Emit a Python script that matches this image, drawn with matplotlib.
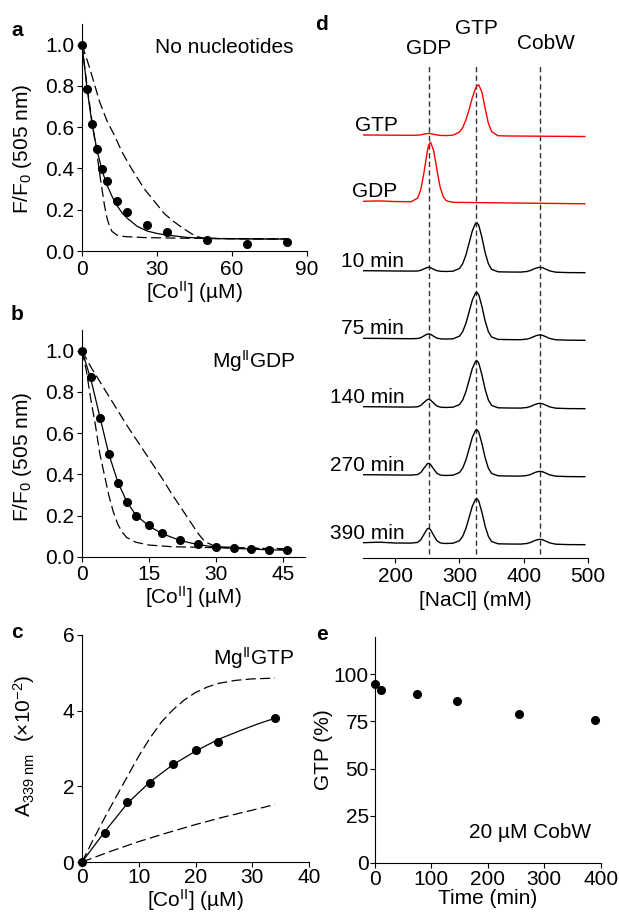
import numpy as np
import matplotlib
matplotlib.use('Agg')
import matplotlib.pyplot as plt

plt.rcParams['font.family'] = ['Liberation Sans', 'DejaVu Sans']
plt.rcParams['mathtext.fontset'] = 'custom'
plt.rcParams['mathtext.rm'] = 'Liberation Sans'
plt.rcParams['mathtext.it'] = 'Liberation Sans:italic'
plt.rcParams['font.size'] = 15

# ---- panel a: no nucleotides ----
a_co = [0, 2, 4, 6, 8, 10, 14, 18, 26, 34, 50, 66, 82]
a_f = [1.0, 0.785, 0.615, 0.495, 0.398, 0.337, 0.243, 0.19, 0.126, 0.094, 0.052, 0.033, 0.043]
a_fit_x = [0, 2, 4, 6, 8, 10, 12, 14, 16, 18, 22, 26, 30, 34, 42, 50, 60, 70, 82]
a_fit = [1.0, 0.79, 0.615, 0.49, 0.39, 0.32, 0.265, 0.22, 0.185, 0.16, 0.12, 0.097, 0.085, 0.077,
         0.066, 0.061, 0.059, 0.058, 0.058]
a_fast_x = [0, 2, 4, 6, 7, 8, 9, 10, 11, 12, 14, 17, 25, 40, 60, 82]
a_fast = [1.0, 0.8, 0.63, 0.47, 0.38, 0.3, 0.22, 0.16, 0.12, 0.095, 0.077, 0.07, 0.065, 0.062, 0.06, 0.058]
a_slow_x = [0, 3, 7, 10, 13, 16, 20, 25, 29, 33, 37, 41, 45, 48, 55, 82]
a_slow = [1.0, 0.89, 0.725, 0.63, 0.56, 0.48, 0.395, 0.3, 0.24, 0.18, 0.14, 0.105, 0.075, 0.063, 0.06, 0.058]

# ---- panel b: MgGDP ----
b_co = [0, 2, 4, 6, 8, 10, 12, 15, 18, 22, 26, 30, 34, 38, 42, 46]
b_f = [1.0, 0.873, 0.672, 0.497, 0.36, 0.267, 0.2, 0.157, 0.118, 0.081, 0.062, 0.048, 0.042, 0.038,
       0.035, 0.032]
b_fit_x = [0, 2, 4, 6, 8, 10, 12, 15, 18, 22, 26, 30, 34, 38, 42, 47]
b_fit = [1.0, 0.86, 0.68, 0.5, 0.365, 0.27, 0.205, 0.15, 0.113, 0.08, 0.06, 0.048, 0.042, 0.038,
         0.035, 0.032]
b_fast_x = [0, 1, 2, 3, 4, 5, 6, 7, 8, 9, 10, 12, 15, 20, 30, 47]
b_fast = [1.0, 0.9, 0.76, 0.64, 0.5, 0.4, 0.3, 0.22, 0.16, 0.12, 0.095, 0.072, 0.058, 0.05, 0.045, 0.04]
b_slow_x = [0, 2, 4, 6, 8, 10, 12, 14, 16, 18, 20, 22, 24, 26, 27.5, 30, 47]
b_slow = [1.0, 0.92, 0.85, 0.78, 0.71, 0.64, 0.575, 0.51, 0.445, 0.38, 0.31, 0.245, 0.18, 0.115,
          0.075, 0.05, 0.035]

# ---- panel c: MgGTP ----
c_co = [0, 4, 8, 12, 16, 20, 24, 34]
c_a = [0, 0.77, 1.59, 2.1, 2.59, 2.97, 3.16, 3.81]
c_fit_x = [0, 4, 8, 12, 16, 20, 24, 28, 31, 34]
c_fit = [0, 0.8, 1.55, 2.12, 2.57, 2.93, 3.24, 3.48, 3.65, 3.8]
c_hi_x = [0, 2, 4, 6, 8, 10, 12, 14, 16, 18, 20, 22, 24, 27, 30, 34]
c_hi = [0, 0.6, 1.17, 1.72, 2.26, 2.8, 3.28, 3.7, 4.02, 4.28, 4.48, 4.62, 4.72, 4.8, 4.84, 4.86]
c_lo_x = [0, 5, 10, 15, 20, 25, 30, 34]
c_lo = [0, 0.28, 0.54, 0.77, 0.99, 1.19, 1.37, 1.52]

# ---- panel d: anion exchange traces ----
nacl = [150, 175, 200, 225, 235, 240, 245, 250, 252, 255, 260, 265, 270, 275, 280, 290, 300, 305,
        310, 315, 320, 325, 327, 330, 335, 340, 345, 350, 360, 375, 395, 405, 410, 415, 420, 425,
        430, 435, 440, 450, 470, 495]
gtp_std = [0, -0.1, -0.2, -0.3, -0.15, 0.2, 0.9, 1.45, 1.55, 1.35, 0.7, 0, -0.4, -0.5, -0.55, -0.15,
           2.95, 7.3, 14.9, 25.3, 37.2, 46.6, 48.9, 50.2, 42.9, 26.7, 11.85, 3.4, -0.7, -1.0, -1.05,
           -1.1, -1.13, -1.15, -1.18, -1.2, -1.22, -1.24, -1.26, -1.3, -1.4, -1.5]
gdp_std = [0, 0.4, -0.25, -0.4, 3.2, 12.0, 29.3, 49.8, 55.7, 59.2, 50.6, 31.5, 14.1, 4.2, 0.35, -1.0,
           -1.1, -1.12, -1.16, -1.2, -1.24, -1.26, -1.28, -1.3, -1.34, -1.38, -1.4, -1.45, -1.52,
           -1.63, -1.78, -1.85, -1.89, -1.93, -1.96, -2.0, -2.03, -2.06, -2.1, -2.17, -2.32, -2.5]
t10 = [0, -0.1, -0.3, -0.4, -0.3, 0.4, 1.9, 3.2, 3.4, 3.0, 1.4, 0.0, -0.55, -0.7, -0.75, -0.5, 2.2,
       6.9, 15.5, 27.5, 39.7, 47.3, 48.0, 45.6, 33.3, 18.1, 7.0, 1.4, -1.1, -1.3, -1.4, -0.8, 0.1,
       1.5, 2.8, 3.4, 2.8, 1.4, -0.1, -1.5, -1.9, -2.0]
t75 = [0, -0.1, -0.3, -0.4, -0.2, 0.6, 2.5, 4.2, 4.4, 4.0, 2.0, 0.2, -0.5, -0.7, -0.75, -0.5, 2.1,
       6.6, 14.8, 26.3, 38.1, 45.3, 46.0, 43.7, 31.9, 17.3, 6.7, 1.3, -1.1, -1.3, -1.4, -0.8, 0.1,
       1.5, 2.8, 3.4, 2.8, 1.4, -0.1, -1.5, -1.9, -2.0]
t140 = [0, -0.1, -0.3, -0.4, -0.1, 1.3, 4.3, 7.1, 7.4, 6.7, 3.5, 0.7, -0.4, -0.7, -0.75, -0.5, 2.1,
        6.6, 14.8, 26.3, 38.1, 45.3, 46.0, 43.7, 31.9, 17.3, 6.7, 1.3, -1.1, -1.3, -1.4, -0.8, 0.1,
        1.5, 2.8, 3.4, 2.8, 1.4, -0.1, -1.5, -1.9, -2.0]
t270 = [0, -0.1, -0.3, -0.4, 0.1, 2.3, 6.7, 10.9, 11.4, 10.3, 5.6, 1.4, -0.3, -0.7, -0.75, -0.5, 2.1,
        6.5, 14.5, 25.7, 37.2, 44.3, 45.0, 42.7, 31.1, 16.9, 6.5, 1.3, -1.1, -1.3, -1.4, -0.8, 0.1,
        1.5, 2.8, 3.4, 2.8, 1.4, -0.1, -1.5, -1.9, -2.0]
t390 = [0, 0.5, -0.3, -0.4, 0.3, 3.0, 8.6, 13.8, 14.4, 13.1, 7.2, 2.0, -0.1, -0.7, -0.75, -0.55, 2.0,
        6.3, 14.1, 25.1, 36.4, 43.3, 44.0, 41.8, 30.4, 16.5, 6.4, 1.2, -1.1, -1.3, -1.4, -0.8, 0.1,
        1.5, 2.8, 3.4, 2.8, 1.4, -0.1, -1.5, -1.9, -2.0]
trace_labels = ['GTP', 'GDP', '10 min', '75 min', '140 min', '270 min', '390 min']
peak_pos = [252, 326, 425]
peak_names = ['GDP', 'GTP', 'CobW']

# ---- panel e: GTP remaining ----
e_time = [0, 10, 75, 145, 255, 390]
e_gtp = [94.8, 91.6, 89.7, 86.0, 79.1, 75.7]

W, H = 619, 918
fig = plt.figure(figsize=(W / 100, H / 100), dpi=100)


def box(left, right, top, bottom):
    # pixel box -> figure fraction
    return [left / W, 1 - bottom / H, (right - left) / W, (bottom - top) / H]


def style(ax, xpad=3, ypad=2):
    ax.spines['top'].set_visible(False)
    ax.spines['right'].set_visible(False)
    ax.tick_params(direction='out', length=3.5, width=0.8, labelsize=15)
    ax.tick_params(axis='x', pad=xpad)
    ax.tick_params(axis='y', pad=ypad)


dash = dict(color='black', lw=0.9, dashes=(8, 3.5))
solid = dict(color='black', lw=0.9)
dot = dict(color='black', marker='o', ls='none', ms=5.5, zorder=5, clip_on=False)

# panel a
ax = fig.add_axes(box(82, 307, 24, 251))
ax.plot(a_slow_x, a_slow, **dash)
ax.plot(a_fast_x, a_fast, **dash)
ax.plot(a_fit_x, a_fit, **solid)
ax.plot(a_co, a_f, **dot)
ax.set_xlim(0, 90)
ax.set_ylim(0, 1.1)
ax.set_xticks([0, 30, 60, 90])
ax.set_yticks([0, 0.2, 0.4, 0.6, 0.8, 1.0])
ax.set_yticklabels(['0.0', '0.2', '0.4', '0.6', '0.8', '1.0'])
style(ax, xpad=3)
ax.set_xlabel('[Co$^{\\mathrm{II}}$] (µM)', labelpad=0)
ax.set_ylabel('F/F$_0$ (505 nm)')
ax.yaxis.set_label_coords(-0.215, 0.45)
ax.text(56.8, 0.985, 'No nucleotides', ha='center', va='center')
fig.text(17 / W, 1 - 30 / H, 'a', fontweight='bold', ha='center', va='center')

# panel b
ax = fig.add_axes(box(82, 305, 330, 557))
ax.plot(b_slow_x, b_slow, **dash)
ax.plot(b_fast_x, b_fast, **dash)
ax.plot(b_fit_x, b_fit, **solid)
ax.plot(b_co, b_f, **dot)
ax.set_xlim(0, 50)
ax.set_ylim(0, 1.1)
ax.set_xticks([0, 15, 30, 45])
ax.set_yticks([0, 0.2, 0.4, 0.6, 0.8, 1.0])
ax.set_yticklabels(['0.0', '0.2', '0.4', '0.6', '0.8', '1.0'])
style(ax, xpad=2)
ax.set_xlabel('[Co$^{\\mathrm{II}}$] (µM)', labelpad=0)
ax.set_ylabel('F/F$_0$ (505 nm)')
ax.yaxis.set_label_coords(-0.215, 0.44)
ax.text(38.5, 0.948, 'Mg$^{\\mathrm{II}}$GDP', ha='center', va='center')
fig.text(17 / W, 1 - 315 / H, 'b', fontweight='bold', ha='center', va='center')

# panel c
ax = fig.add_axes(box(82, 309, 635, 862))
ax.plot(c_hi_x, c_hi, **dash)
ax.plot(c_lo_x, c_lo, **dash)
ax.plot(c_fit_x, c_fit, **solid)
ax.plot(c_co, c_a, **dot)
ax.set_xlim(0, 40)
ax.set_ylim(0, 6)
ax.set_xticks([0, 10, 20, 30, 40])
ax.set_yticks([0, 2, 4, 6])
style(ax, xpad=1)
ax.set_xlabel('[Co$^{\\mathrm{II}}$] (µM)', labelpad=0)
ax.set_ylabel('A$_{339\\ \\mathrm{nm}}$  (×10$^{-2}$)')
ax.yaxis.set_label_coords(-0.2, 0.51)
ax.text(30.3, 5.38, 'Mg$^{\\mathrm{II}}$GTP', ha='center', va='center')
fig.text(17 / W, 1 - 633 / H, 'c', fontweight='bold', ha='center', va='center')

# panel d: stacked chromatograms, y in pixel-like units
ax = fig.add_axes(box(363, 588, 64, 557.7))
traces = [gtp_std, gdp_std, t10, t75, t140, t270, t390]
offsets = [422.7, 356.4, 287, 219.4, 151, 83, 15]
colors = ['#ff0000', '#ff0000', 'black', 'black', 'black', 'black', 'black']
for tr, off, col, lab in zip(traces, offsets, colors, trace_labels):
    ax.plot(nacl, np.array(tr) + off, color=col, lw=1.0)
    xr = 204 if col != 'black' else 214
    ax.text(xr, off + 4, lab, ha='right', va='baseline', clip_on=False)
for xp in peak_pos:
    ax.plot([xp, xp], [4, 493.7], color='#333333', lw=1.0, dashes=(3.8, 2.4), zorder=0)
ax.text(252, 500, 'GDP', ha='center', va='bottom')
ax.text(326, 520, 'GTP', ha='center', va='bottom')
ax.text(434.7, 504.4, 'CobW', ha='center', va='bottom')
ax.set_xlim(150, 500)
ax.set_ylim(0, 493.7)
ax.set_xticks([200, 300, 400, 500])
ax.set_yticks([])
for s in ['top', 'right', 'left']:
    ax.spines[s].set_visible(False)
ax.tick_params(direction='out', length=3.5, width=0.8, labelsize=15, pad=3)
ax.set_xlabel('[NaCl] (mM)', labelpad=4)
fig.text(321 / W, 1 - 25 / H, 'd', fontweight='bold', ha='center', va='center')

# panel e
ax = fig.add_axes(box(375, 600.7, 636.7, 862.7))
ax.plot(e_time, e_gtp, **dot)
ax.set_xlim(0, 400)
ax.set_ylim(0, 120)
ax.set_xticks([0, 100, 200, 300, 400])
ax.set_yticks([0, 25, 50, 75, 100])
style(ax, xpad=2, ypad=1)
ax.set_xlabel('Time (min)', labelpad=0)
ax.set_ylabel('GTP (%)')
ax.yaxis.set_label_coords(-0.186, 0.5)
ax.text(275, 15.8, '20 µM CobW', ha='center', va='center')
fig.text(322 / W, 1 - 635 / H, 'e', fontweight='bold', ha='center', va='center')

fig.savefig('out.png', dpi=100)
